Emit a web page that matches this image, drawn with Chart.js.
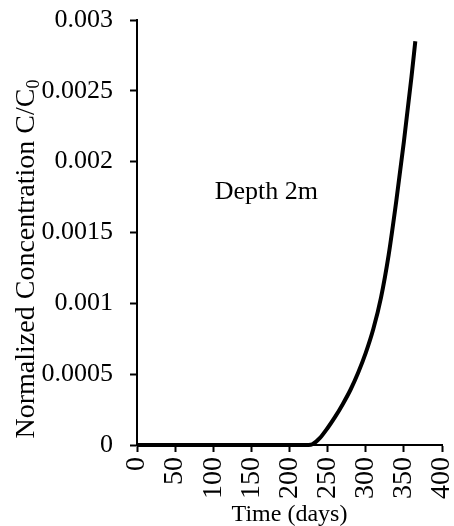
<!DOCTYPE html>
<html><head><meta charset="utf-8">
<script src="https://cdn.jsdelivr.net/npm/chart.js@4/dist/chart.umd.min.js"></script>
<style>html,body{margin:0;padding:0;background:#fff}#wrap{width:454px;height:526px}</style>
</head><body><div id="wrap"><canvas id="c" width="454" height="526"></canvas></div>
<script>
const days = [0, 50, 100, 150, 200, 225, 230, 240, 250, 260, 270, 280, 290, 300, 310, 320, 330, 340, 350, 360, 365];
const concentration = [0, 0, 0, 0, 0, 0, 0.000005, 0.00005, 0.00012, 0.0002, 0.00029, 0.00039, 0.00051, 0.00065, 0.00082, 0.00104, 0.00134, 0.00172, 0.00214, 0.0026, 0.00285];
const xTickValues = [0, 50, 100, 150, 200, 250, 300, 350, 400];
const yTickValues = [0, 0.0005, 0.001, 0.0015, 0.002, 0.0025, 0.003];
const xTitle = 'Time (days)';
const yTitleMain = 'Normalized Concentration C/C';
const yTitleSub = '0';
const annotationText = 'Depth 2m';

const FONT = "'Liberation Serif', 'Times New Roman', serif";

const textPlugin = {
  id: 'texts',
  afterDraw(chart) {
    const ctx = chart.ctx;
    const xs = chart.scales.x, ys = chart.scales.y;
    ctx.save();
    ctx.fillStyle = '#000';
    // annotation
    ctx.font = '26px ' + FONT;
    ctx.textAlign = 'left';
    ctx.textBaseline = 'alphabetic';
    ctx.fillText(annotationText, xs.getPixelForValue(102), ys.getPixelForValue(0.00174));
    // y title
    ctx.translate(34, 259);
    ctx.rotate(-Math.PI / 2);
    ctx.font = '28px ' + FONT;
    const w1 = ctx.measureText(yTitleMain).width;
    ctx.font = '18px ' + FONT;
    const w2 = ctx.measureText(yTitleSub).width;
    const start = -(w1 + w2) / 2;
    ctx.font = '28px ' + FONT;
    ctx.textAlign = 'left';
    ctx.fillText(yTitleMain, start, 0);
    ctx.font = '18px ' + FONT;
    ctx.fillText(yTitleSub, start + w1, 5);
    ctx.restore();
  }
};

new Chart(document.getElementById('c'), {
  type: 'line',
  data: {
    datasets: [{
      data: days.map((d, i) => ({x: d, y: concentration[i]})),
      borderColor: '#000',
      borderWidth: 4,
      pointRadius: 0,
      cubicInterpolationMode: 'monotone',
      fill: false,
      clip: false
    }]
  },
  options: {
    responsive: false,
    animation: false,
    layout: {padding: {top: 20, right: 12, left: 0, bottom: 0}},
    plugins: {legend: {display: false}, tooltip: {enabled: false}},
    scales: {
      x: {
        type: 'linear', min: 0, max: 400,
        afterBuildTicks(s) { s.ticks = xTickValues.map(v => ({value: v})); },
        afterFit(s) { s.height = 81; s.paddingLeft = 0; s.paddingRight = 0; },
        ticks: {minRotation: 90, maxRotation: 90, color: '#000', padding: 5, font: {family: FONT, size: 28}},
        grid: {drawOnChartArea: false, drawTicks: true, tickLength: 7, tickWidth: 2, tickColor: '#000'},
        border: {color: '#000', width: 2},
        title: {display: true, text: xTitle, color: '#000', font: {family: FONT, size: 24}, padding: {top: 0, bottom: -3}}
      },
      y: {
        type: 'linear', min: 0, max: 0.003,
        afterBuildTicks(s) { s.ticks = yTickValues.map(v => ({value: v})); },
        afterFit(s) { s.width = 137; s.paddingTop = 0; s.paddingBottom = 0; },
        ticks: {color: '#000', padding: 17, font: {family: FONT, size: 26},
          callback: v => String(parseFloat(Number(v).toFixed(6)))},
        grid: {drawOnChartArea: false, drawTicks: true, tickLength: 7, tickWidth: 2, tickColor: '#000'},
        border: {color: '#000', width: 2}
      }
    }
  },
  plugins: [textPlugin]
});
</script></body></html>
